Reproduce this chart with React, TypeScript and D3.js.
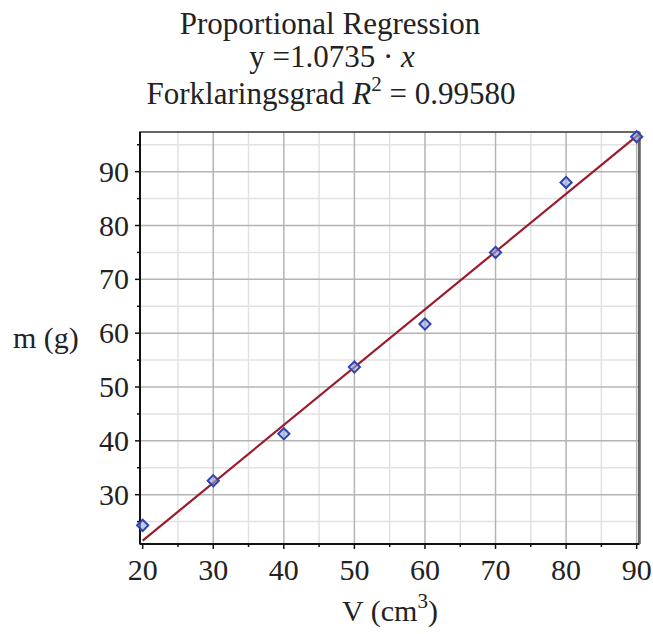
import React, { useEffect, useRef } from 'react';
import * as d3 from 'd3';

const volumes = [20, 30, 40, 50, 60, 70, 80, 90];
const masses = [24.3, 32.6, 41.3, 53.7, 61.7, 75.0, 88.0, 96.5];
const slope = 1.0735;
const xTicks = [20, 30, 40, 50, 60, 70, 80, 90];
const yTicks = [30, 40, 50, 60, 70, 80, 90];

const width = 653, height = 634;
const left = 140, right = 639, top = 132, bottom = 544;

export default function App() {
  const ref = useRef<SVGSVGElement>(null);

  useEffect(() => {
    const svg = d3.select(ref.current);
    svg.selectAll('*').remove();
    const font = '"Liberation Serif", "Times New Roman", serif';

    const x = d3.scaleLinear().domain([19.62, 90.33]).range([left, right]);
    const y = d3.scaleLinear().domain([20.84, 97.37]).range([bottom, top]);

    const minorX = d3.range(25, 90, 10);
    const minorY = d3.range(25, 96, 10);

    const grid = svg.append('g');
    grid.selectAll('.mx').data(minorX).enter().append('line')
      .attr('x1', d => x(d)).attr('x2', d => x(d)).attr('y1', top).attr('y2', bottom)
      .attr('stroke', '#e2e2e2').attr('stroke-width', 1.5);
    grid.selectAll('.my').data(minorY).enter().append('line')
      .attr('y1', d => y(d)).attr('y2', d => y(d)).attr('x1', left).attr('x2', right)
      .attr('stroke', '#e2e2e2').attr('stroke-width', 1.5);
    grid.selectAll('.Mx').data(xTicks.slice(1)).enter().append('line')
      .attr('x1', d => x(d)).attr('x2', d => x(d)).attr('y1', top).attr('y2', bottom)
      .attr('stroke', '#b4b4b4').attr('stroke-width', 1.5);
    grid.selectAll('.My').data(yTicks).enter().append('line')
      .attr('y1', d => y(d)).attr('y2', d => y(d)).attr('x1', left).attr('x2', right)
      .attr('stroke', '#b4b4b4').attr('stroke-width', 1.5);

    // frame
    svg.append('rect').attr('x', left).attr('y', top).attr('width', right - left).attr('height', bottom - top)
      .attr('fill', 'none').attr('stroke', '#333').attr('stroke-width', 1.5);
    svg.append('line').attr('x1', right + 1.5).attr('x2', right + 1.5).attr('y1', top).attr('y2', bottom)
      .attr('stroke', '#888').attr('stroke-width', 1);
    svg.append('line').attr('x1', left).attr('x2', left).attr('y1', top).attr('y2', bottom)
      .attr('stroke', '#111').attr('stroke-width', 2);
    svg.append('line').attr('x1', left).attr('x2', right).attr('y1', bottom).attr('y2', bottom)
      .attr('stroke', '#111').attr('stroke-width', 2);

    // ticks
    svg.selectAll('.tx').data(xTicks).enter().append('line')
      .attr('x1', d => x(d)).attr('x2', d => x(d)).attr('y1', bottom).attr('y2', bottom + 5)
      .attr('stroke', '#111').attr('stroke-width', 1.5);
    svg.selectAll('.tmx').data(minorX).enter().append('line')
      .attr('x1', d => x(d)).attr('x2', d => x(d)).attr('y1', bottom).attr('y2', bottom + 3)
      .attr('stroke', '#111').attr('stroke-width', 1.5);
    svg.selectAll('.ty').data(yTicks).enter().append('line')
      .attr('y1', d => y(d)).attr('y2', d => y(d)).attr('x1', left - 5).attr('x2', left)
      .attr('stroke', '#111').attr('stroke-width', 1.5);
    svg.selectAll('.tmy').data(minorY).enter().append('line')
      .attr('y1', d => y(d)).attr('y2', d => y(d)).attr('x1', left - 3).attr('x2', left)
      .attr('stroke', '#111').attr('stroke-width', 1.5);

    svg.selectAll('.lx').data(xTicks).enter().append('text')
      .attr('x', d => x(d)).attr('y', 580).attr('text-anchor', 'middle')
      .attr('font-family', font).attr('font-size', 30).attr('fill', '#222').text(d => d);
    svg.selectAll('.ly').data(yTicks).enter().append('text')
      .attr('x', left - 11).attr('y', d => y(d) + 10).attr('text-anchor', 'end')
      .attr('font-family', font).attr('font-size', 30).attr('fill', '#222').text(d => d);

    // regression line
    const line = d3.line<number>().x(d => x(d)).y(d => y(slope * d));
    svg.append('path').datum([20, 90.3]).attr('d', line)
      .attr('fill', 'none').attr('stroke', '#9a1a2a').attr('stroke-width', 2.2);

    // points
    const sym = d3.symbol().type(d3.symbolDiamond2).size(80);
    svg.selectAll('.pt').data(volumes).enter().append('path')
      .attr('d', sym)
      .attr('transform', (d, i) => `translate(${x(d)},${y(masses[i])})`)
      .attr('fill', '#9aa8e0').attr('fill-opacity', 0.6)
      .attr('stroke', '#3044b0').attr('stroke-width', 2);

    // labels
    const t = svg.append('g').attr('font-family', font).attr('fill', '#222').attr('font-size', 31);
    t.append('text').attr('x', 330).attr('y', 34).attr('text-anchor', 'middle').text('Proportional Regression');
    const l2 = t.append('text').attr('x', 332).attr('y', 67).attr('text-anchor', 'middle');
    l2.append('tspan').text('y =1.0735 · ');
    l2.append('tspan').attr('font-style', 'italic').text('x');
    const l3 = t.append('text').attr('x', 331).attr('y', 104).attr('text-anchor', 'middle');
    l3.append('tspan').text('Forklaringsgrad ');
    l3.append('tspan').attr('font-style', 'italic').text('R');
    l3.append('tspan').attr('dy', -13).attr('font-size', 21).text('2');
    l3.append('tspan').attr('dy', 13).text(' = 0.99580');

    t.append('text').attr('x', 13).attr('y', 348).attr('font-size', 30).text('m (g)');
    const xl = t.append('text').attr('x', 390).attr('y', 621).attr('text-anchor', 'middle').attr('font-size', 30);
    xl.append('tspan').text('V (cm');
    xl.append('tspan').attr('dy', -13).attr('font-size', 21).text('3');
    xl.append('tspan').attr('dy', 13).text(')');
  }, []);

  return (
    <div>
      <svg ref={ref} width={width} height={height} style={{ position: 'absolute', left: 0, top: 0 }}></svg>
    </div>
  );
}
